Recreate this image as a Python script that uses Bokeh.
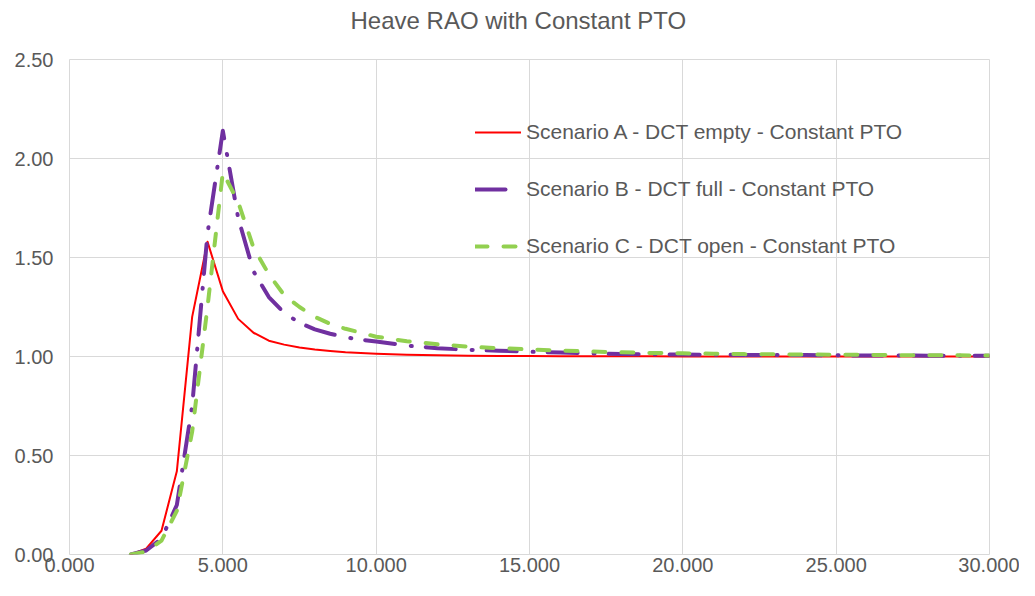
from bokeh.plotting import figure
from bokeh.models import Legend, LegendItem, FixedTicker, NumeralTickFormatter, ColumnDataSource, Title
from bokeh.embed import file_html
from bokeh.resources import INLINE

title_text = "Heave RAO with Constant PTO"

x_values = [2.0, 2.5, 3.0, 3.5, 4.0, 4.5, 5.0, 5.5, 6.0, 6.5, 7.0, 7.5, 8.0, 8.5, 9.0, 9.5,
            10, 11, 12, 13, 14, 15, 16, 17, 18, 19, 20, 21, 22, 23, 24, 25, 26, 27, 28, 29, 30]

scenario_a = [0.0, 0.03, 0.12, 0.42, 1.20, 1.58, 1.33, 1.19, 1.12, 1.08, 1.06, 1.045, 1.035, 1.028, 1.022, 1.018,
              1.014, 1.009, 1.006, 1.004, 1.003, 1.002, 1.001, 1.001, 1.001, 1.001, 1.0, 1.0, 1.0, 1.0, 1.0, 1.0, 1.0, 1.0, 1.0, 1.0, 1.0]

scenario_b = [0.0, 0.02, 0.08, 0.25, 0.75, 1.62, 2.14, 1.70, 1.43, 1.30, 1.22, 1.17, 1.137, 1.115, 1.097, 1.085,
              1.076, 1.055, 1.042, 1.034, 1.029, 1.024, 1.020, 1.016, 1.013, 1.011, 1.010, 1.009, 1.008, 1.007, 1.007, 1.006, 1.005, 1.005, 1.004, 1.004, 1.004]

scenario_c = [0.0, 0.015, 0.07, 0.22, 0.62, 1.25, 1.93, 1.78, 1.55, 1.415, 1.31, 1.25, 1.20, 1.165, 1.14, 1.12,
              1.10, 1.077, 1.062, 1.050, 1.042, 1.036, 1.030, 1.025, 1.021, 1.018, 1.016, 1.014, 1.012, 1.011, 1.010, 1.009, 1.008, 1.007, 1.006, 1.006, 1.005]

series_names = ["Scenario A - DCT empty - Constant PTO",
                "Scenario B - DCT full - Constant PTO",
                "Scenario C - DCT open - Constant PTO"]

x_ticks = [0, 5, 10, 15, 20, 25, 30]
y_ticks = [0.0, 0.5, 1.0, 1.5, 2.0, 2.5]

FONT = "Liberation Sans"
TXT = "#595959"
GRID = "#d9d9d9"

W, H = 1019, 580
B_LEFT, B_RIGHT, B_TOP, B_BOTTOM = 69, 30, 59, 26

p = figure(width=W, height=H, x_range=(0, 30), y_range=(0, 2.5),
           output_backend="svg", toolbar_location=None, title=None,
           min_border_left=B_LEFT, min_border_right=B_RIGHT,
           min_border_top=B_TOP, min_border_bottom=B_BOTTOM,
           background_fill_color="white", border_fill_color="white")

# spacer panel between the frame and the title (keeps the title near the top edge)
p.add_layout(Title(text=" ", text_font=FONT, text_font_size="10px", standoff=11), "above")
p.add_layout(Title(text=title_text, text_font=FONT, text_font_size="24px",
                   text_font_style="normal", text_color=TXT, align="left", offset=281,
                   vertical_align="top", standoff=0), "above")

p.outline_line_color = GRID
p.grid.grid_line_color = GRID
p.grid.grid_line_width = 1
p.xgrid.ticker = FixedTicker(ticks=x_ticks)
p.ygrid.ticker = FixedTicker(ticks=y_ticks)
p.xaxis.ticker = FixedTicker(ticks=x_ticks)
p.yaxis.ticker = FixedTicker(ticks=y_ticks)
p.xaxis.formatter = NumeralTickFormatter(format="0.000")
p.yaxis.formatter = NumeralTickFormatter(format="0.00")
for ax in (p.xaxis, p.yaxis):
    ax.axis_line_color = None
    ax.major_tick_line_color = None
    ax.minor_tick_line_color = None
    ax.major_tick_out = 0
    ax.major_tick_in = 0
    ax.major_label_text_font = FONT
    ax.major_label_text_font_size = "20px"
    ax.major_label_text_color = TXT
p.xaxis.major_label_standoff = 3
p.yaxis.major_label_standoff = 16

src = ColumnDataSource(dict(x=x_values, a=scenario_a, b=scenario_b, c=scenario_c))

ra = p.line("x", "a", source=src, line_color="#ff0000", line_width=2,
            line_join="round", line_cap="round")
rb = p.line("x", "b", source=src, line_color="#7030a0", line_width=4,
            line_dash="30 16 1 14", line_join="round", line_cap="round")
rc = p.line("x", "c", source=src, line_color="#92d050", line_width=4,
            line_dash="12 16", line_join="round", line_cap="round")

frame_h = H - B_TOP - B_BOTTOM
legend = Legend(items=[LegendItem(label=series_names[0], renderers=[ra]),
                       LegendItem(label=series_names[1], renderers=[rb]),
                       LegendItem(label=series_names[2], renderers=[rc])],
                location=(406, frame_h - 63 - 136),
                orientation="vertical",
                padding=0, margin=0, spacing=33,
                glyph_width=46, glyph_height=20, label_height=20, label_standoff=5,
                label_text_font=FONT, label_text_font_size="21px", label_text_color=TXT,
                border_line_alpha=0, background_fill_alpha=0)
p.add_layout(legend, "center")

open("out.html", "w").write(file_html(p, INLINE))
